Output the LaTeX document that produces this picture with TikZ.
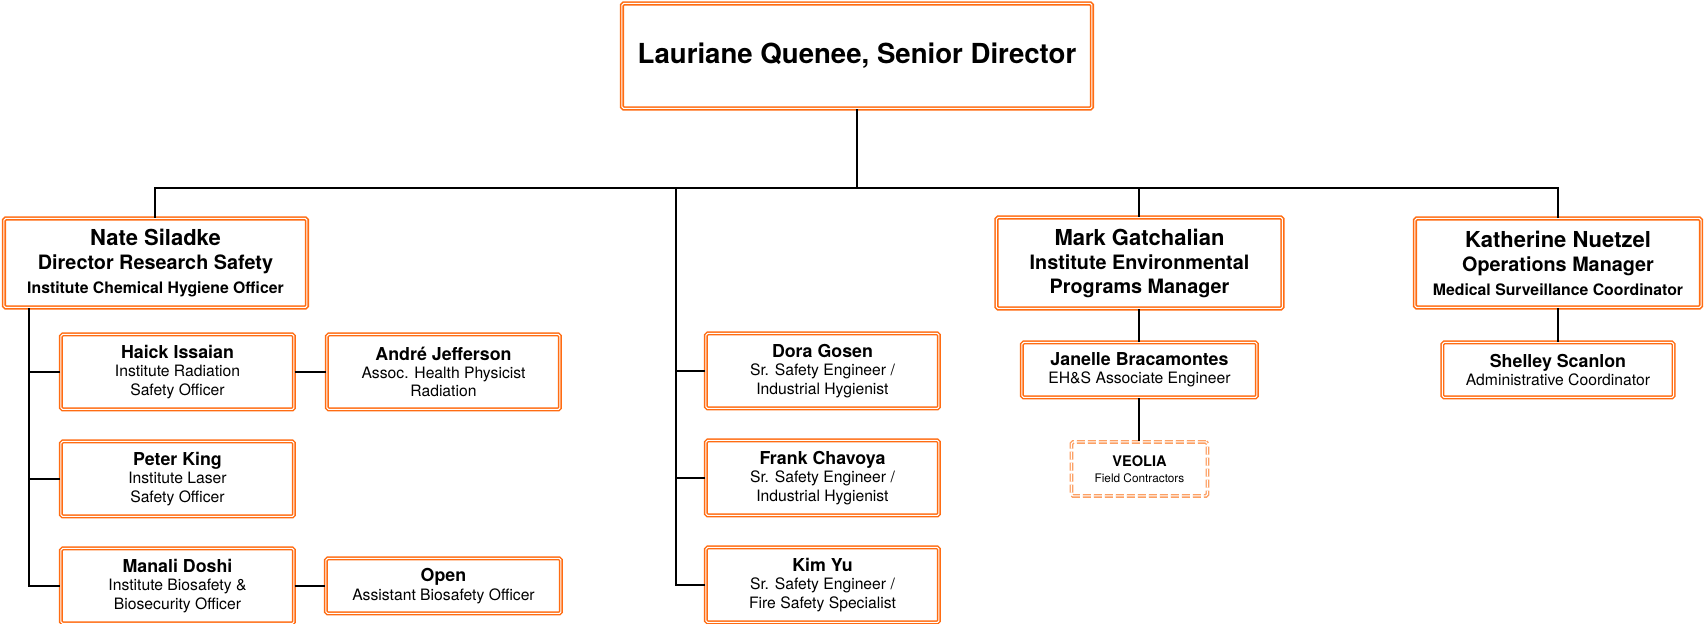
\documentclass[tikz,border=0pt]{standalone}
\usepackage{fontspec}
\setmainfont{TeX Gyre Heros}
\definecolor{boxorange}{RGB}{255,108,18}
\definecolor{contractorange}{RGB}{252,160,100}
\newcommand{\who}[1]{{\fontsize{8.9}{9.8}\selectfont\bfseries #1}}
\newcommand{\mgr}[1]{{\fontsize{11}{12.5}\selectfont #1}}

\begin{document}
\begin{tikzpicture}[node distance=53.5pt, line width=1pt]
    \tikzstyle{director} = [rectangle, rounded corners=0.8pt, draw=boxorange, double=white, double distance=0.5pt, line width=0.8pt, minimum width=235pt, minimum height=52.5pt, text centered, font=\fontsize{13.8}{16}\selectfont\bfseries]
    \tikzstyle{manager} = [rectangle, rounded corners=0.8pt, draw=boxorange, double=white, double distance=0.5pt, line width=0.8pt, minimum width=143pt, minimum height=44.5pt, align=center, font=\fontsize{9.9}{12}\selectfont\bfseries]
    \tikzstyle{staff} = [rectangle, rounded corners=0.8pt, draw=boxorange, double=white, double distance=0.5pt, line width=0.75pt, minimum width=116.5pt, minimum height=37.5pt, align=center, font=\fontsize{7.85}{9.2}\selectfont]
    \tikzstyle{staffsmall} = [staff, minimum width=117.5pt, minimum height=27.5pt]
    \tikzstyle{contractor} = [rectangle, rounded corners=0.8pt, draw=contractorange, double=white, double distance=0.5pt, line width=0.7pt, dashed, dash pattern=on 4pt off 1.5pt, minimum width=68pt, minimum height=27pt, align=center, font=\fontsize{5.9}{8}\selectfont]

    \useasboundingbox (-428.5pt,28pt) rectangle (424pt,-284pt);

    % Senior director
    \node [director] (quenee) {Lauriane Quenee, Senior Director};

    % Managers
    \node [manager, below of=quenee, xshift=-350.75pt, yshift=-50pt, minimum width=151.5pt] (siladke) {\mgr{Nate Siladke}\\ Director Research Safety\\ {\fontsize{7.9}{10}\selectfont Institute Chemical Hygiene Officer}};
    \node [manager, below of=quenee, xshift=141.25pt, yshift=-50pt, minimum height=45.5pt] (gatchalian) {\mgr{Mark Gatchalian}\\ Institute Environmental\\ Programs Manager};
    \node [manager, below of=quenee, xshift=350.5pt, yshift=-50pt] (nuetzel) {\mgr{Katherine Nuetzel}\\ Operations Manager\\ {\fontsize{7.9}{10}\selectfont Medical Surveillance Coordinator}};

    % Research safety team
    \node [staff, below of=siladke, xshift=11pt, yshift=-1pt] (issaian) {\who{Haick Issaian}\\ Institute Radiation\\ Safety Officer};
    \node [staff, right of=issaian, xshift=79.5pt] (jefferson) {\who{André Jefferson}\\ Assoc. Health Physicist\\ Radiation};
    \node [staff, below of=issaian] (king) {\who{Peter King}\\ Institute Laser\\ Safety Officer};
    \node [staff, below of=king] (doshi) {\who{Manali Doshi}\\ Institute Biosafety \&\\ Biosecurity Officer};
    \node [staffsmall, right of=doshi, xshift=79.5pt] (open) {\who{Open}\\ Assistant Biosafety Officer};

    % Safety engineers
    \node [staff, below of=quenee, xshift=-17.25pt, yshift=-104pt] (gosen) {\who{Dora Gosen}\\ Sr. Safety Engineer /\\ Industrial Hygienist};
    \node [staff, below of=gosen] (chavoya) {\who{Frank Chavoya}\\ Sr. Safety Engineer /\\ Industrial Hygienist};
    \node [staff, below of=chavoya] (yu) {\who{Kim Yu}\\ Sr. Safety Engineer /\\ Fire Safety Specialist};

    % Environmental programs
    \node [staffsmall, below of=gatchalian, minimum width=117.5pt] (bracamontes) {\who{Janelle Bracamontes}\\ EH\&S Associate Engineer};
    \node [contractor, below of=bracamontes, yshift=4pt] (veolia) {{\fontsize{7.3}{9}\selectfont\bfseries VEOLIA}\\ Field Contractors};

    % Operations
    \node [staffsmall, below of=nuetzel, minimum width=115.5pt] (scanlon) {\who{Shelley Scanlon}\\ Administrative Coordinator};

    % Connections
    \coordinate (bus) at (0,-66pt);
    \coordinate (midtrunk) at (-90.5pt,-66pt);
    \coordinate (lefttrunk) at ([xshift=-63.25pt]siladke.south);

    \draw (quenee.south) -- (bus);
    \draw (siladke.north) -- (siladke.north |- bus) -- (nuetzel.north |- bus) -- (nuetzel.north);
    \draw (gatchalian.north) -- (gatchalian.north |- bus);

    \draw (lefttrunk) |- (doshi.west);
    \draw (issaian.west) -- (lefttrunk |- issaian.west);
    \draw (king.west) -- (lefttrunk |- king.west);
    \draw (issaian) -- (jefferson);
    \draw (doshi) -- (open);

    \draw (midtrunk) |- (yu.west);
    \draw (gosen.west) -- (midtrunk |- gosen.west);
    \draw (chavoya.west) -- (midtrunk |- chavoya.west);

    \draw (gatchalian) -- (bracamontes);
    \draw (bracamontes) -- (veolia);
    \draw (nuetzel) -- (scanlon);
\end{tikzpicture}
\end{document}
